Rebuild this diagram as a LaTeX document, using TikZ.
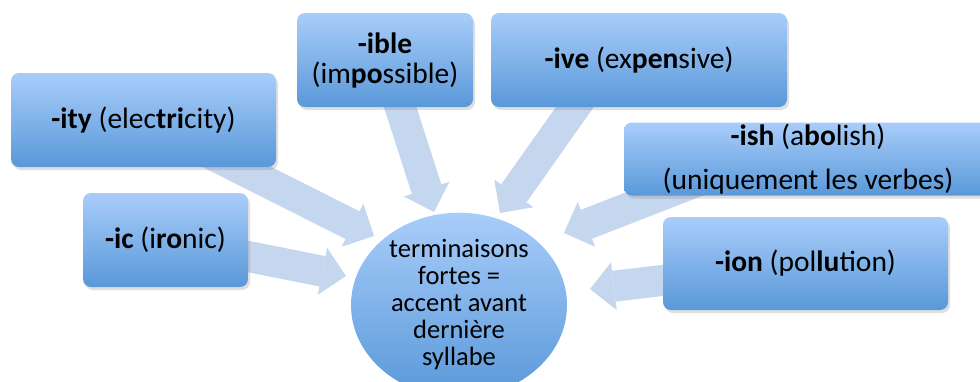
\documentclass[tikz,border=0pt]{standalone}
\usepackage{fontspec}
\setmainfont{Carlito}
\usetikzlibrary{shapes,arrows.meta,shadows,positioning,backgrounds}

\definecolor{haut}{RGB}{169,205,250}
\definecolor{bas}{RGB}{89,152,217}
\definecolor{pale}{RGB}{197,214,239}

\begin{document}
\begin{tikzpicture}[x=1pt, y=-1pt]
\tikzset{
    % style for the suffix boxes
    suffixe/.style={
           rectangle,
           rounded corners=8pt,
           top color=haut, bottom color=bas,
           drop shadow={opacity=0.25, shadow xshift=2pt, shadow yshift=-3pt},
           inner sep=0pt,
           align=center,
           font=\fontsize{29.5}{30}\selectfont},
    % style for the central ellipse
    noyau/.style={
           ellipse,
           top color=haut, bottom color=bas,
           minimum width=216pt, minimum height=170pt,
           inner sep=0pt,
           align=center,
           font=\fontsize{26.5}{27}\selectfont},
    % style for the block arrows
    fleche/.style={
           draw=pale,
           line width=31pt,
           -{Triangle[length=24pt, width=48pt, line width=0pt]}}
}
\useasboundingbox (0,0) rectangle (980,381);
 %tips of the arrows
 \coordinate (p-ity) at (374,236);
 \coordinate (p-ic) at (346,276);
 \coordinate (p-ible) at (434,212);
 \coordinate (p-ive) at (500,213);
 \coordinate (p-ish) at (564,233);
 \coordinate (p-ion) at (590,289);
 %nodes
 \node[noyau] (centre) at (459,305)
   {terminaisons\\fortes =\\accent avant\\dernière\\syllabe};
 \node[suffixe, minimum width=265pt, minimum height=94pt] (ity) at (143.5,120)
   {\textbf{-ity} (elec\textbf{tri}city)};
 \node[suffixe, minimum width=165pt, minimum height=94pt] (ic) at (165.5,240)
   {\textbf{-ic} (i\textbf{ro}nic)};
 \node[suffixe, minimum width=176pt, minimum height=94pt] (ible) at (385,60)
   {\textbf{-ible}\\(im\textbf{po}ssible)};
 \node[suffixe, minimum width=296pt, minimum height=94pt] (ive) at (639,60)
   {\textbf{-ive} (ex\textbf{pen}sive)};
 \node[suffixe, minimum width=368pt, minimum height=73pt,
   font=\fontsize{29.5}{44}\selectfont] (ish) at (808,159)
   {\textbf{-ish} (a\textbf{bo}lish)\\(uniquement les verbes)};
 \node[suffixe, minimum width=285pt, minimum height=93pt] (ion) at (805.5,263.5)
   {\textbf{-ion} (pol\textbf{lu}tion)};
 % arrows go behind the boxes
 \begin{scope}[on background layer]
   \draw[fleche] (ity.center) -- (p-ity);
   \draw[fleche] (ic.center) -- (p-ic);
   \draw[fleche] (ible.center) -- (p-ible);
   \draw[fleche] ([xshift=-31pt]ive.center) -- (p-ive);
   \draw[fleche] ([shift={(-100,18)}]ish.center) -- (p-ish);
   \draw[fleche] (ion.center) -- (p-ion);
 \end{scope}
\end{tikzpicture}
\end{document}
